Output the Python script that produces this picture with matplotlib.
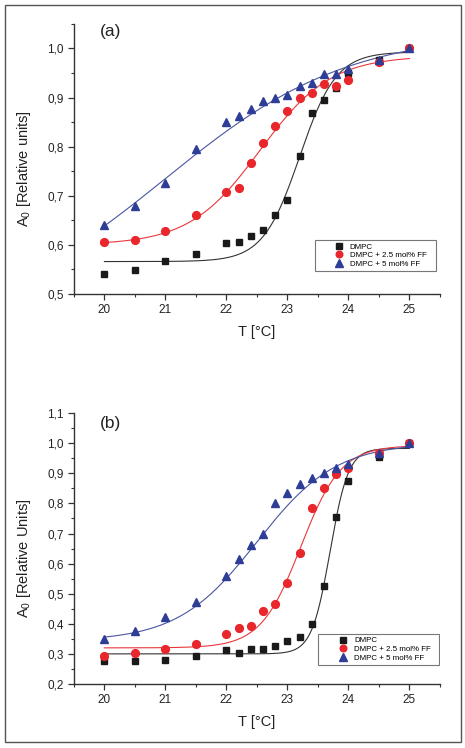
import numpy as np
import matplotlib.pyplot as plt
from matplotlib.ticker import MultipleLocator, FuncFormatter

plt.rcParams['font.family'] = ['Liberation Sans', 'DejaVu Sans']
plt.rcParams['mathtext.fontset'] = 'custom'
plt.rcParams['mathtext.rm'] = 'Liberation Sans'

# temperatures (same for every series)
temps = [20, 20.5, 21, 21.5, 22, 22.2, 22.4, 22.6, 22.8, 23, 23.2, 23.4, 23.6, 23.8, 24, 24.5, 25]

# panel (a)
a_dmpc = [0.540, 0.549, 0.568, 0.581, 0.603, 0.605, 0.619, 0.631, 0.660, 0.692,
          0.781, 0.868, 0.896, 0.920, 0.950, 0.977, 1.000]
a_ff25 = [0.605, 0.609, 0.628, 0.661, 0.707, 0.715, 0.766, 0.807, 0.842, 0.873,
          0.899, 0.910, 0.927, 0.924, 0.936, 0.972, 1.000]
a_ff5 = [0.641, 0.680, 0.727, 0.795, 0.850, 0.863, 0.877, 0.893, 0.900, 0.906,
         0.923, 0.929, 0.949, 0.949, 0.958, 0.977, 1.000]

# panel (b)
b_dmpc = [0.278, 0.278, 0.279, 0.294, 0.312, 0.302, 0.317, 0.317, 0.327, 0.343,
          0.357, 0.400, 0.525, 0.755, 0.873, 0.955, 1.000]
b_ff25 = [0.293, 0.304, 0.317, 0.334, 0.365, 0.386, 0.393, 0.443, 0.467, 0.537,
          0.636, 0.786, 0.850, 0.899, 0.917, 0.968, 1.000]
b_ff5 = [0.351, 0.376, 0.421, 0.474, 0.558, 0.616, 0.662, 0.700, 0.800, 0.836,
         0.863, 0.885, 0.902, 0.918, 0.932, 0.969, 1.002]

# Boltzmann fit parameters: A1, A2, x0, dx
a_fits = [(0.566, 0.993, 23.2, 0.30), (0.600, 0.985, 22.55, 0.58), (0.435, 1.035, 21.0, 1.5)]
b_fits = [(0.300, 0.983, 23.7, 0.15), (0.320, 0.993, 23.22, 0.33), (0.342, 1.002, 22.5, 0.65)]

labels = ['DMPC', 'DMPC + 2.5 mol% FF', 'DMPC + 5 mol% FF']
colors = ['#1a1a1a', '#e8262b', '#2e3d96']
line_colors = ['#333333', '#e8383c', '#4a55a2']
markers = ['s', 'o', '^']
msizes = [4.6, 5.6, 6.0]


def boltzmann(x, a1, a2, x0, dx):
    return a2 + (a1 - a2) / (1 + np.exp((x - x0) / dx))


def comma(v, pos):
    return f'{v:.1f}'.replace('.', ',')


def draw_panel(ax, series, fits, ylim, ylabel, tag, tag_y, box, leg_x):
    xs = np.linspace(20, 25, 300)
    for i, ys in enumerate(series):
        ax.plot(xs, boltzmann(xs, *fits[i]), color=line_colors[i], lw=0.8, zorder=2)
        ax.plot(temps, ys, linestyle='none', marker=markers[i], ms=msizes[i],
                color=colors[i], mec=colors[i], label=labels[i], zorder=3)
    ax.set_xlim(19.5, 25.5)
    ax.set_ylim(*ylim)
    ax.xaxis.set_major_locator(MultipleLocator(1))
    ax.xaxis.set_minor_locator(MultipleLocator(0.5))
    ax.yaxis.set_major_locator(MultipleLocator(0.1))
    ax.yaxis.set_minor_locator(MultipleLocator(0.05))
    ax.yaxis.set_major_formatter(FuncFormatter(comma))
    ax.spines['top'].set_visible(False)
    ax.spines['right'].set_visible(False)
    for s in ['left', 'bottom']:
        ax.spines[s].set_color('#333333')
        ax.spines[s].set_linewidth(1.0)
    ax.tick_params(which='major', direction='out', length=4, width=0.9,
                   labelsize=8.5, colors='#333333', labelcolor='#222222')
    ax.tick_params(which='minor', direction='out', length=2.5, width=0.8, colors='#333333')
    ax.set_xlabel('T [°C]', fontsize=10.5, color='#222222', labelpad=6)
    ax.set_ylabel(ylabel, fontsize=10.5, color='#222222')
    ax.yaxis.set_label_coords(-0.112, 0.464)
    ax.text(20.1, tag_y, tag, fontsize=12.5, ha='center', va='center', color='#222222')

    # legend box drawn as a plain rectangle, entries placed inside it
    x0, y0, x1, y1 = box
    rect = plt.Rectangle((x0, y0), x1 - x0, y1 - y0, transform=ax.transAxes,
                         fill=False, edgecolor='#777777', lw=0.8, zorder=4)
    ax.add_patch(rect)
    ax.legend(loc='center left', bbox_to_anchor=(leg_x, (y0 + y1) / 2), fontsize=5.7,
              frameon=False, handletextpad=0.9, labelspacing=0.15, borderpad=0,
              handlelength=1.0, markerscale=0.85, borderaxespad=0)


fig = plt.figure(figsize=(4.65, 7.48), dpi=100)
ax_a = fig.add_axes([0.159, 0.607, 0.787, 0.361])
ax_b = fig.add_axes([0.159, 0.0856, 0.787, 0.362])

draw_panel(ax_a, [a_dmpc, a_ff25, a_ff5], a_fits, (0.5, 1.05),
           r'A$_\mathregular{0}$ [Relative units]', '(a)', 1.035,
           (0.660, 0.085, 0.989, 0.200), 0.7126)
draw_panel(ax_b, [b_dmpc, b_ff25, b_ff5], b_fits, (0.2, 1.1),
           r'A$_\mathregular{0}$ [Relative Units]', '(b)', 1.065,
           (0.6675, 0.070, 0.998, 0.185), 0.7243)

border = plt.Rectangle((5 / 465, 6 / 748), 456 / 465, 737 / 748, transform=fig.transFigure,
                       fill=False, edgecolor='#555555', lw=1.0)
fig.patches.append(border)

fig.savefig('out.png', dpi=100)
